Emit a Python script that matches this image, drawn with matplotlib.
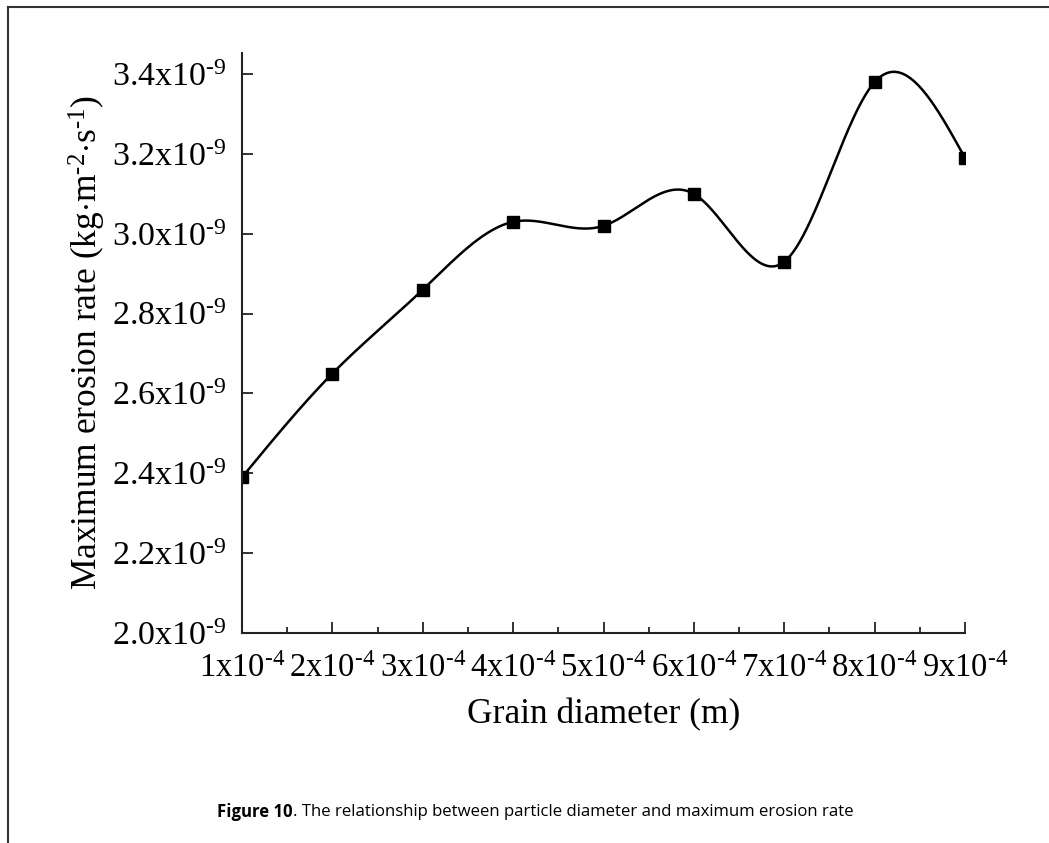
import numpy as np
import matplotlib
matplotlib.use("Agg")
import matplotlib.pyplot as plt
from matplotlib.lines import Line2D
from matplotlib.ticker import MultipleLocator, FixedLocator

plt.rcParams['font.family'] = ['Liberation Serif', 'DejaVu Serif']
plt.rcParams['mathtext.fontset'] = 'custom'
plt.rcParams['mathtext.rm'] = 'Liberation Serif'
plt.rcParams['mathtext.it'] = 'Liberation Serif:italic'
plt.rcParams['mathtext.bf'] = 'Liberation Serif:bold'

HY = '\u2010'  # short hyphen for exponents

# ---- data ----
diameter = [1e-4, 2e-4, 3e-4, 4e-4, 5e-4, 6e-4, 7e-4, 8e-4, 9e-4]
erosion_rate = [2.39e-9, 2.65e-9, 2.86e-9, 3.03e-9, 3.02e-9, 3.10e-9, 2.93e-9, 3.38e-9, 3.19e-9]
x_tick_labels = ['1x10$^{%s4}$' % HY, '2x10$^{%s4}$' % HY, '3x10$^{%s4}$' % HY,
                 '4x10$^{%s4}$' % HY, '5x10$^{%s4}$' % HY, '6x10$^{%s4}$' % HY,
                 '7x10$^{%s4}$' % HY, '8x10$^{%s4}$' % HY, '9x10$^{%s4}$' % HY]
y_ticks = [2.0e-9, 2.2e-9, 2.4e-9, 2.6e-9, 2.8e-9, 3.0e-9, 3.2e-9, 3.4e-9]
y_tick_labels = ['2.0x10$^{%s9}$' % HY, '2.2x10$^{%s9}$' % HY, '2.4x10$^{%s9}$' % HY,
                 '2.6x10$^{%s9}$' % HY, '2.8x10$^{%s9}$' % HY, '3.0x10$^{%s9}$' % HY,
                 '3.2x10$^{%s9}$' % HY, '3.4x10$^{%s9}$' % HY]
x_label = 'Grain diameter (m)'
y_label = 'Maximum erosion rate (kg$\\cdot$m$^{%s2}$$\\cdot$s$^{%s1}$)' % (HY, HY)
caption_bold = 'Figure 10'
caption_rest = '. The relationship between particle diameter and maximum erosion rate'


def natural_spline(x, y, n=600):
    x = np.asarray(x, float)
    y = np.asarray(y, float)
    N = len(x)
    h = np.diff(x)
    A = np.zeros((N, N))
    b = np.zeros(N)
    A[0, 0] = 1
    A[-1, -1] = 1
    for i in range(1, N - 1):
        A[i, i - 1] = h[i - 1]
        A[i, i] = 2 * (h[i - 1] + h[i])
        A[i, i + 1] = h[i]
        b[i] = 6 * ((y[i + 1] - y[i]) / h[i] - (y[i] - y[i - 1]) / h[i - 1])
    M = np.linalg.solve(A, b)
    xs = np.linspace(x[0], x[-1], n)
    idx = np.clip(np.searchsorted(x, xs) - 1, 0, N - 2)
    x0, x1 = x[idx], x[idx + 1]
    hh = x1 - x0
    ys = (M[idx] * (x1 - xs) ** 3 / (6 * hh) + M[idx + 1] * (xs - x0) ** 3 / (6 * hh)
          + (y[idx] / hh - M[idx] * hh / 6) * (x1 - xs)
          + (y[idx + 1] / hh - M[idx + 1] * hh / 6) * (xs - x0))
    return xs, ys


W, H = 1049, 843
fig = plt.figure(figsize=(W / 100, H / 100), dpi=100)
ax = fig.add_axes([242 / W, 1 - 633 / H, (965 - 242) / W, (633 - 53) / H])

xs, ys = natural_spline(diameter, erosion_rate)
ax.plot(xs, ys, color='black', lw=1.8)
ax.plot(diameter, erosion_rate, linestyle='none', marker='s', ms=8, color='black')

ax.set_xlim(diameter[0], diameter[-1])
ax.set_ylim(2.0e-9, 3.453e-9)
ax.xaxis.set_major_locator(FixedLocator(diameter))
ax.set_xticklabels(x_tick_labels)
ax.xaxis.set_minor_locator(MultipleLocator(0.5e-4))
ax.yaxis.set_major_locator(FixedLocator(y_ticks))
ax.set_yticklabels(y_tick_labels)

for s in ['top', 'right']:
    ax.spines[s].set_visible(False)
for s in ['left', 'bottom']:
    ax.spines[s].set_linewidth(1.5)
    ax.spines[s].set_color('#222222')

ax.tick_params(axis='both', which='major', direction='in', length=8, width=1.3,
               color='#222222')
ax.tick_params(axis='x', which='major', labelsize=23.5, pad=15)
ax.tick_params(axis='y', which='major', labelsize=24.5, pad=11)
ax.tick_params(axis='x', which='minor', direction='in', length=4, width=1.3, color='#222222')

ax.set_xlabel(x_label, fontsize=25.5, labelpad=10)
ax.set_ylabel(y_label, fontsize=25.5, labelpad=3)

# caption
t1 = fig.text(217 / W, 1 - 812 / H, caption_bold, fontsize=12.1, fontweight='bold',
              family='Open Sans', va='center', ha='left')
fig.canvas.draw()
bb = t1.get_window_extent()
fig.text(bb.x1 / W, 1 - 812 / H, caption_rest, fontsize=12.1, family='Open Sans',
         va='center', ha='left')

# frame lines (top and left)
fig.add_artist(Line2D([8 / W, 1], [1 - 7 / H, 1 - 7 / H], transform=fig.transFigure,
                      color='#333333', lw=1.5))
fig.add_artist(Line2D([8 / W, 8 / W], [0, 1 - 7 / H], transform=fig.transFigure,
                      color='#333333', lw=1.5))

fig.savefig('out.png', dpi=100)
